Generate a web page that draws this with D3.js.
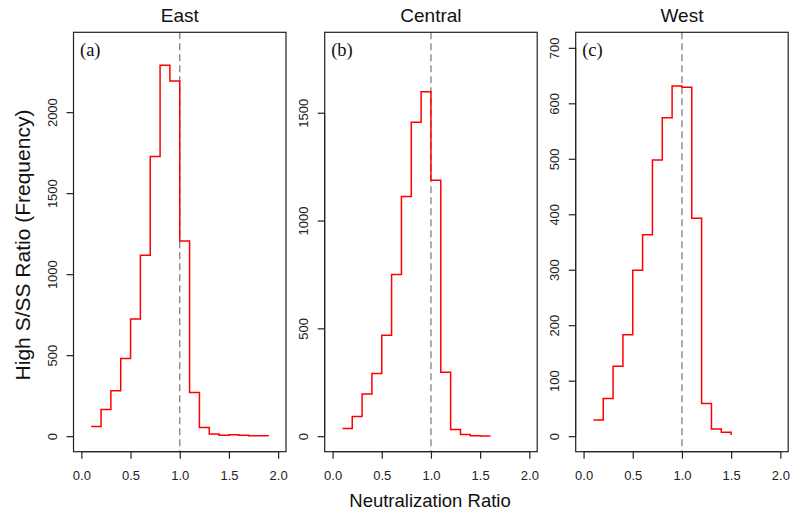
<!DOCTYPE html>
<html>
<head>
<meta charset="utf-8">
<script src="https://cdn.jsdelivr.net/npm/d3@7"></script>
<style>
  html, body { margin: 0; padding: 0; background: #fff; }
  svg { display: block; }
</style>
</head>
<body>
<svg id="chart" width="800" height="518"></svg>
<script>
// ---- data ----
const panelNames = ["East", "Central", "West"];
const panelTags = ["(a)", "(b)", "(c)"];
const eastX = [0.1,0.2,0.3,0.4,0.5,0.6,0.7,0.8,0.9,1.0,1.1,1.2,1.3,1.4,1.5,1.6,1.7,1.8,1.9];
const eastY = [60,165,281,479,723,1116,1726,2290,2193,1205,269,54,14,6,8,6,3,2,1];
const centralX = [0.1,0.2,0.3,0.4,0.5,0.6,0.7,0.8,0.9,1.0,1.1,1.2,1.3,1.4,1.5,1.6];
const centralY = [36,91,195,291,468,750,1111,1456,1597,1187,297,31,8,2,1,0];
const westX = [0.1,0.2,0.3,0.4,0.5,0.6,0.7,0.8,0.9,1.0,1.1,1.2,1.3,1.4,1.5];
const westY = [29,68,126,183,299,363,498,574,631,629,393,59,13,7,2];
const xTicks = [0, 0.5, 1.0, 1.5, 2.0];
const eastTicks = [0, 500, 1000, 1500, 2000];
const centralTicks = [0, 500, 1000, 1500];
const westTicks = [0, 100, 200, 300, 400, 500, 600, 700];
const yMax = [2397, 1801, 700];
const refLine = 1.0;

const panels = [
  {x: eastX, y: eastY, ticks: eastTicks},
  {x: centralX, y: centralY, ticks: centralTicks},
  {x: westX, y: westY, ticks: westTicks}
];

const svg = d3.select("#chart");
const lefts = [73.5, 324.7, 575.7];
const pw = 212.5, plotTop = 32.3, plotBottom = 451.7;
const sans = "'Liberation Sans', Arial, sans-serif";

panels.forEach((p, i) => {
  const L = lefts[i], R = L + pw;
  const x = d3.scaleLinear().domain([-0.08, 2.08]).range([L, R]);
  const M = yMax[i];
  const y = d3.scaleLinear().domain([-0.04 * M, 1.04 * M]).range([plotBottom, plotTop]);

  const g = svg.append("g");

  // dashed reference line
  g.append("line")
    .attr("x1", x(refLine)).attr("x2", x(refLine))
    .attr("y1", plotTop).attr("y2", plotBottom)
    .attr("stroke", "#808080").attr("stroke-width", 1.3)
    .attr("stroke-dasharray", "7,4");

  // step line
  const pts = p.x.map((v, k) => [v, p.y[k]]);
  g.append("path")
    .datum(pts)
    .attr("d", d3.line().x(d => x(d[0])).y(d => y(d[1])).curve(d3.curveStepAfter))
    .attr("fill", "none").attr("stroke", "#ff0000").attr("stroke-width", 1.5);

  // box
  g.append("rect")
    .attr("x", L).attr("y", plotTop).attr("width", pw).attr("height", plotBottom - plotTop)
    .attr("fill", "none").attr("stroke", "#222").attr("stroke-width", 1.2);

  // x axis
  const xa = g.append("g").attr("transform", `translate(0,${plotBottom})`)
    .call(d3.axisBottom(x).tickValues(xTicks).tickFormat(d3.format(".1f")).tickSize(7).tickPadding(12));
  xa.select(".domain").attr("stroke", "#222").attr("d", `M${x(0)},0H${x(2)}`);
  xa.selectAll(".tick line").attr("stroke", "#222").attr("stroke-width", 1.2);
  xa.selectAll(".tick text").attr("font-family", sans)
    .attr("font-size", "13px").attr("fill", "#222");

  // y axis
  const ya = g.append("g").attr("transform", `translate(${L},0)`)
    .call(d3.axisLeft(y).tickValues(p.ticks).tickFormat(d3.format("d")).tickSize(7));
  const ticksDom = p.ticks;
  ya.select(".domain").attr("stroke", "#222")
    .attr("d", `M0,${y(ticksDom[0])}V${y(ticksDom[ticksDom.length-1])}`);
  ya.selectAll(".tick line").attr("stroke", "#222").attr("stroke-width", 1.2);
  ya.selectAll(".tick text")
    .attr("font-family", sans)
    .attr("font-size", "13px").attr("fill", "#222")
    .attr("x", null)
    .attr("text-anchor", "middle")
    .attr("transform", "translate(-17,0) rotate(-90)")
    .attr("dy", "0em");

  // title
  svg.append("text")
    .attr("x", (L + R) / 2).attr("y", 22)
    .attr("text-anchor", "middle")
    .attr("font-family", sans)
    .attr("font-size", "19px").attr("fill", "#111")
    .text(panelNames[i]);

  // panel tag
  svg.append("text")
    .attr("x", L + 6.5).attr("y", 56)
    .attr("font-family", "'Liberation Serif', 'Times New Roman', serif")
    .attr("font-size", "18.5px").attr("fill", "#111")
    .text(panelTags[i]);
});

// axis titles
svg.append("text")
  .attr("transform", "translate(30,245) rotate(-90)")
  .attr("text-anchor", "middle")
  .attr("font-family", sans)
  .attr("font-size", "21px").attr("fill", "#111")
  .text("High S/SS Ratio (Frequency)");

svg.append("text")
  .attr("x", 430).attr("y", 507)
  .attr("text-anchor", "middle")
  .attr("font-family", sans)
  .attr("font-size", "18.5px").attr("fill", "#111")
  .text("Neutralization Ratio");
</script>
</body>
</html>
